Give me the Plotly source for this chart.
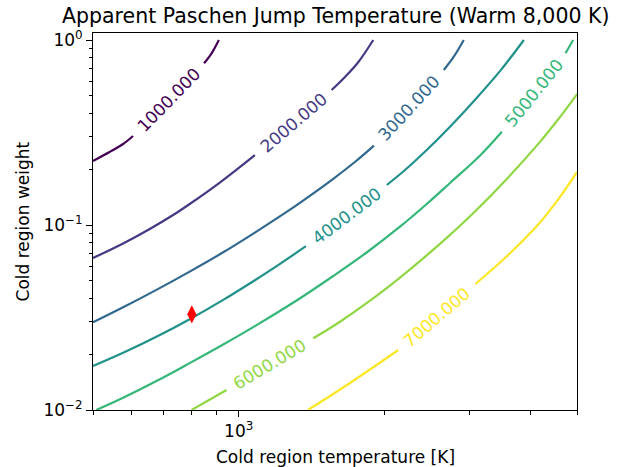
import math
import plotly.graph_objects as go

# ---------------- data ----------------
levels = [1000, 2000, 3000, 4000, 5000, 6000, 7000]
level_colors = ["#440154", "#443983", "#31688e", "#21918c", "#35b779", "#90d743", "#fde725"]

# Cold region temperature [K] and cold region weight along each contour.
# None marks the gap where the inline contour label sits.
temp_1000 = [500, 541, 577, 605, None, 848, 879, 910]
weight_1000 = [0.2218, 0.2480, 0.2741, 0.3028, None, 0.7484, 0.8473, 1.0]

temp_2000 = [500, 577, 655, 732, 792, 914, 1080, None, 1556, 1658, 1764, 1897]
weight_2000 = [0.06631, 0.07943, 0.09514, 0.1132, 0.1299, 0.1697, 0.2389, None, 0.5367, 0.6310, 0.7556, 1.0]

temp_3000 = [500, 577, 676, 792, 929, 1080, 1236, 1338, 1568, 1753, 1903, None, 2653, 2782, 2918]
weight_3000 = [0.02979, 0.03590, 0.04459, 0.05599, 0.07118, 0.09097, 0.1144, 0.1318, 0.1777, 0.2232, 0.2687,
               None, 0.6885, 0.8123, 1.0]

temp_4000 = [500, 577, 676, 792, 929, 1080, 1198, 1377, None, 2023, 2206, 2446, 2733, 3079, 3469, 3884]
weight_4000 = [0.01729, 0.02038, 0.02487, 0.03096, 0.03937, 0.05029, 0.05996, 0.07680,
               None, 0.1645, 0.1983, 0.2543, 0.3399, 0.4757, 0.6807, 1.0]

temp_5000 = [508, 577, 676, 792, 929, 1080, 1327, 1568, 1838, 2154, 2446, 2733, 3153, 3497, None, 4734, 4910]
weight_5000 = [0.01, 0.01164, 0.01433, 0.01793, 0.02260, 0.02841, 0.03957, 0.05301, 0.07101, 0.09791,
               0.1299, 0.1687, 0.2375, 0.3194, None, 0.8473, 1.0]

temp_6000 = [799, 944, None, 1426, 1619, 1868, 2154, 2446, 2733, 3055, 3581, 4197, 4616, 5000]
weight_6000 = [0.01, 0.01283, None, 0.02441, 0.03001, 0.03898, 0.05197, 0.06850, 0.08841, 0.1161, 0.1775,
               0.2824, 0.3845, 0.5101]

temp_7000 = [1390, 1698, 2137, None, 3084, 3581, 4197, 4616, 5000]
weight_7000 = [0.01, 0.01400, 0.02110, None, 0.04798, 0.06774, 0.1034, 0.1422, 0.1935]

contour_temps = [temp_1000, temp_2000, temp_3000, temp_4000, temp_5000, temp_6000, temp_7000]
contour_weights = [weight_1000, weight_2000, weight_3000, weight_4000, weight_5000, weight_6000, weight_7000]

marker_temp = [800]
marker_weight = [0.0329]

x_range = [500, 5000]
y_range = [0.01, 1.091]
x_tick_vals = [1000]
x_tick_text = ["10<sup>3</sup>"]
x_minor_vals = [500, 600, 700, 800, 900, 2000, 3000, 4000, 5000]
y_tick_vals = [0.01, 0.1, 1]
y_tick_text = ["10<sup>\u22122</sup>", "10<sup>\u22121</sup>", "10<sup>0</sup>"]
y_minor_vals = [0.02, 0.03, 0.04, 0.05, 0.06, 0.07, 0.08, 0.09,
                0.2, 0.3, 0.4, 0.5, 0.6, 0.7, 0.8, 0.9]

title_text = "Apparent Paschen Jump Temperature (Warm 8,000 K)"
x_title = "Cold region temperature [K]"
y_title = "Cold region weight"

# ---------------- layout geometry ----------------
W, H = 639, 467
ML, MR, MT, MB = 93.3, 62.2, 33, 57
plot_w = W - ML - MR
plot_h = H - MT - MB
lx0, lx1 = math.log10(x_range[0]), math.log10(x_range[1])
ly0, ly1 = math.log10(y_range[0]), math.log10(y_range[1])
ppd_x = plot_w / (lx1 - lx0)
ppd_y = plot_h / (ly1 - ly0)

FONT = "DejaVu Sans"
fig = go.Figure()
annotations = []

for lev, col, xs, ys in zip(levels, level_colors, contour_temps, contour_weights):
    fig.add_trace(go.Scatter(
        x=xs, y=ys, mode="lines", connectgaps=False,
        line=dict(color=col, width=2.2, shape="spline", smoothing=1.0),
        hoverinfo="skip", showlegend=False))
    gap = xs.index(None)
    xa, ya = math.log10(xs[gap - 1]), math.log10(ys[gap - 1])
    xb, yb = math.log10(xs[gap + 1]), math.log10(ys[gap + 1])
    ang = math.degrees(math.atan2((yb - ya) * ppd_y, (xb - xa) * ppd_x))
    annotations.append(dict(
        x=(xa + xb) / 2, y=(ya + yb) / 2, xref="x", yref="y",
        text=f"{lev:.3f}", showarrow=False, textangle=-ang,
        xanchor="center", yanchor="middle",
        font=dict(family=FONT, size=17, color=col)))

fig.add_trace(go.Scatter(
    x=marker_temp, y=marker_weight, mode="markers",
    marker=dict(symbol="diamond-tall", size=13, color="red", line=dict(width=0)),
    hoverinfo="skip", showlegend=False))

# titles
annotations.append(dict(x=0.5, y=1 + (MT - (23.3 - 0.35 * 20.5)) / plot_h, xref="paper", yref="paper",
                        text=title_text, showarrow=False, xanchor="center", yanchor="middle",
                        font=dict(family=FONT, size=20.5, color="black")))
annotations.append(dict(x=0.5, y=-((462.7 - 0.35 * 17) - (H - MB)) / plot_h, xref="paper", yref="paper",
                        text=x_title, showarrow=False, xanchor="center", yanchor="middle",
                        font=dict(family=FONT, size=17, color="black")))
annotations.append(dict(x=-(ML - (29.3 - 0.35 * 17)) / plot_w, y=0.5, xref="paper", yref="paper",
                        text=y_title, showarrow=False, xanchor="center", yanchor="middle", textangle=-90,
                        font=dict(family=FONT, size=17, color="black")))

axis_common = dict(
    type="log", showgrid=False, zeroline=False,
    showline=True, mirror=True, linecolor="black", linewidth=1,
    ticks="outside", ticklen=6, tickwidth=1, tickcolor="black",
    tickfont=dict(family=FONT, size=17, color="black"),
)

fig.update_layout(
    width=W, height=H,
    margin=dict(l=ML, r=MR, t=MT, b=MB, pad=0),
    paper_bgcolor="white", plot_bgcolor="white",
    showlegend=False,
    font=dict(family=FONT, size=17, color="black"),
    xaxis=dict(axis_common, range=[lx0, lx1], tickmode="array", tickvals=x_tick_vals, ticktext=x_tick_text,
               minor=dict(tickmode="array", tickvals=x_minor_vals, ticks="outside", ticklen=3.5,
                          tickwidth=1, tickcolor="black", showgrid=False)),
    yaxis=dict(axis_common, range=[ly0, ly1], tickmode="array", tickvals=y_tick_vals, ticktext=y_tick_text,
               minor=dict(tickmode="array", tickvals=y_minor_vals, ticks="outside", ticklen=3.5,
                          tickwidth=1, tickcolor="black", showgrid=False)),
    annotations=annotations,
)

fig.write_html("out.html")
